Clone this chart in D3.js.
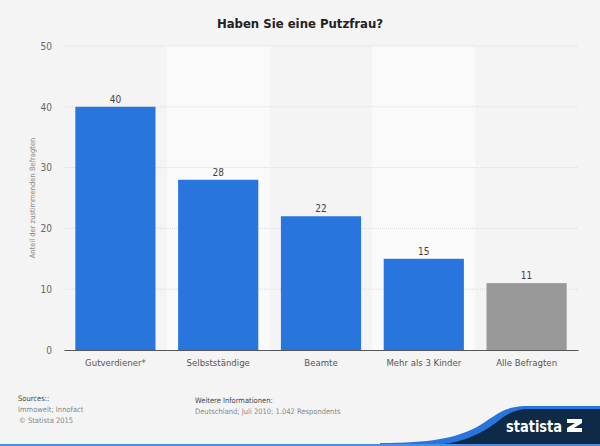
<!DOCTYPE html>
<html><head><meta charset="utf-8">
<script src="https://cdn.jsdelivr.net/npm/d3@7"></script>
<style>body{margin:0;background:#f4f4f4;font-family:"DejaVu Sans Condensed",sans-serif;}</style>
</head><body>
<svg id="c" width="600" height="446"></svg>
<script>
const categories = ["Gutverdiener*","Selbstständige","Beamte","Mehr als 3 Kinder","Alle Befragten"];
const values = [40,28,22,15,11];
const barColors = ["#2876dd","#2876dd","#2876dd","#2876dd","#999999"];
const yTicks = [0,10,20,30,40,50];

const FONT = "DejaVu Sans Condensed";
const svg = d3.select("#c");
svg.append("rect").attr("width",600).attr("height",446).attr("fill","#f4f4f4");
const m = {l:64, r:578, t:46, b:350};
const x = d3.scaleBand().domain(categories).range([m.l,m.r]).paddingInner(0.22).paddingOuter(0.11);
const xb = d3.scaleBand().domain(categories).range([m.l,m.r]);
const y = d3.scaleLinear().domain([0,50]).range([m.b,m.t]);

// alternating bands
svg.append("g").selectAll("rect").data(categories.filter((d,i)=>i%2===1)).join("rect")
  .attr("x",d=>xb(d)).attr("width",xb.bandwidth()).attr("y",m.t).attr("height",m.b-m.t).attr("fill","#fafafa");

// grid
svg.append("g").selectAll("line").data(yTicks.filter(d=>d>0)).join("line")
  .attr("x1",m.l).attr("x2",m.r).attr("y1",d=>y(d)).attr("y2",d=>y(d))
  .attr("stroke","#dcdcdc").attr("stroke-dasharray","1,1");

// y axis labels
const ya = svg.append("g").attr("transform",`translate(${m.l},0)`)
  .call(d3.axisLeft(y).tickValues(yTicks).tickSize(0).tickPadding(12));
ya.select(".domain").remove();
ya.selectAll("text").attr("fill","#666").attr("font-size",10).attr("font-family",FONT);

svg.append("text").attr("transform","translate(35,198) rotate(-90)").attr("text-anchor","middle")
  .attr("font-size",7.5).attr("font-family",FONT).attr("fill","#888").text("Anteil der zustimmenden Befragten");

// bars
svg.append("g").selectAll("rect").data(values).join("rect")
  .attr("x",(d,i)=>x(categories[i])).attr("width",x.bandwidth())
  .attr("y",d=>y(d)).attr("height",d=>y(0)-y(d)).attr("fill",(d,i)=>barColors[i]);

svg.append("g").selectAll("text").data(values).join("text")
  .attr("x",(d,i)=>x(categories[i])+x.bandwidth()/2).attr("y",d=>y(d)-4)
  .attr("text-anchor","middle").attr("font-size",10).attr("font-family",FONT).attr("fill","#444").text(d=>d);

// x axis
const xa = svg.append("g").attr("transform",`translate(0,${m.b})`)
  .call(d3.axisBottom(xb).tickSize(0).tickPadding(9));
xa.select(".domain").attr("stroke","#555").attr("stroke-width",1.2);
xa.selectAll("text").attr("fill","#555").attr("font-size",9.5).attr("font-family",FONT);

// title
svg.append("text").attr("x",300).attr("y",28).attr("text-anchor","middle").attr("font-family",FONT)
  .attr("font-size",13).attr("font-weight","bold").attr("fill","#222").text("Haben Sie eine Putzfrau?");

// footer
const f = svg.append("g").attr("font-size",7.5).attr("font-family",FONT);
f.append("text").attr("x",18).attr("y",401).attr("fill","#444").text("Sources::");
f.append("text").attr("x",18).attr("y",412).attr("fill","#888").text("Immowelt; Innofact");
f.append("text").attr("x",19).attr("y",423).attr("fill","#888").text("© Statista 2015");
f.append("text").attr("x",195).attr("y",403).attr("fill","#444").text("Weitere Informationen:");
f.append("text").attr("x",195).attr("y",414).attr("fill","#888").text("Deutschland; Juli 2010; 1.042 Respondents");

// logo
svg.append("path").attr("d","M380,446 L380,443 C430,443 455,438 475,428 C495,417 500,407 525,406 L600,406 L600,446 Z").attr("fill","#2876dd");
svg.append("path").attr("d","M420,446 C450,445 468,440 485,430 C503,419 508,409 530,409 L600,409 L600,446 Z").attr("fill","#0e2a47");
svg.append("rect").attr("x",0).attr("y",444).attr("width",600).attr("height",2).attr("fill","#4a8fe6");
svg.append("text").attr("x",506).attr("y",432).attr("font-size",16).attr("font-weight","bold").attr("fill","#fff").attr("font-family",FONT)
  .attr("textLength",56).attr("lengthAdjust","spacingAndGlyphs").text("statista");
svg.append("path").attr("d","M567,419 h15 v4 l-8,5 h8 v4 h-15 v-4 l8,-5 h-8 z").attr("fill","#fff");
</script>
</body></html>
